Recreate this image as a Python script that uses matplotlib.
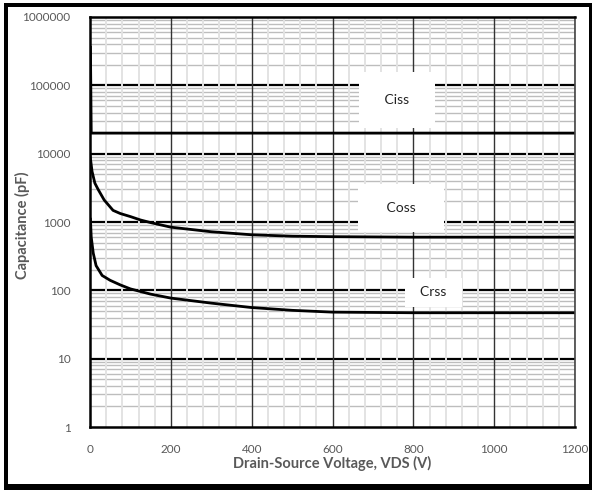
import matplotlib
matplotlib.use("Agg")
import matplotlib.pyplot as plt
from matplotlib.ticker import FixedLocator, NullFormatter
from matplotlib.patches import Rectangle

plt.rcParams['font.family'] = ['Lato', 'DejaVu Sans']

# Data
v_ciss = [1, 3, 1200]
ciss = [360000, 20000, 20000]

v_coss = [0, 5, 12, 20, 35, 57, 75, 100, 125, 150, 200, 300, 400, 500, 600, 800, 1000, 1200]
coss = [9500, 5500, 3700, 3000, 2100, 1480, 1330, 1200, 1070, 980, 840, 720, 650, 620, 610, 600, 600, 600]

v_crss = [1, 3, 8, 15, 30, 50, 75, 100, 150, 200, 300, 400, 500, 600, 800, 1000, 1200]
crss = [1100, 600, 350, 230, 165, 140, 120, 105, 88, 77, 65, 56, 51, 48, 47, 47, 47]

x_ticks = [0, 200, 400, 600, 800, 1000, 1200]
y_ticks = [1, 10, 100, 1000, 10000, 100000, 1000000]
y_ticklabels = ["1", "10", "100", "1000", "10000", "100000", "1000000"]

labels = ["Ciss", "Coss", "Crss"]
label_pos = [(760, 61000), (770, 1600), (850, 94)]
label_pad = [1.6, 1.3, 0.6]
label_text = [" Ciss ", "   Coss   ", "  Crss  "]

fig = plt.figure(figsize=(5.95, 4.91), dpi=100)
ax = fig.add_axes([0.1513, 0.1303, 0.8151, 0.8351])
ax.set_yscale('log')
ax.set_xlim(0, 1200)
ax.set_ylim(1, 1000000)

# grid
minor_y = [m * 10**d for d in range(0, 6) for m in range(2, 10)]
for y in minor_y:
    ax.axhline(y, color='#bdbdbd', lw=1.0, zorder=1)
for y in y_ticks[1:-1]:
    ax.axhline(y, color='black', lw=1.6, zorder=2)
minor_x = [x for x in range(40, 1200, 40) if x % 200 != 0]
for x in minor_x:
    ax.axvline(x, color='#e3e3e3', lw=1.4, zorder=3)
for x in x_ticks[1:-1]:
    ax.axvline(x, color='#333333', lw=1.0, zorder=4)
ax.axvline(1200, color='#555555', lw=1.0, zorder=4)

for v, c in [(v_ciss, ciss), (v_coss, coss), (v_crss, crss)]:
    ax.plot(v, c, color='black', lw=2.0, zorder=6, solid_joinstyle='round')

for txt, (x, y), p in zip(label_text, label_pos, label_pad):
    ax.text(x, y, txt, ha='center', va='center', fontsize=10, color='#222222', zorder=8,
            bbox=dict(boxstyle=f'square,pad={p}', fc='white', ec='none'))

ax.set_xticks(x_ticks)
ax.set_xticklabels([str(x) for x in x_ticks])
ax.yaxis.set_major_locator(FixedLocator(y_ticks))
ax.set_yticklabels(y_ticklabels)
ax.yaxis.set_minor_formatter(NullFormatter())
ax.tick_params(axis='both', which='both', length=0, labelsize=8.5, labelcolor='#595959')
ax.tick_params(axis='x', pad=12)
ax.tick_params(axis='y', pad=14)

ax.set_xlabel("Drain-Source Voltage, VDS (V)", fontsize=10.5, fontweight='bold', color='#595959', labelpad=1)
ax.set_ylabel("Capacitance (pF)", fontsize=10.5, fontweight='bold', color='#595959')
ax.yaxis.set_label_coords(-0.124, 0.493)

for s in ['left', 'bottom', 'top']:
    ax.spines[s].set_linewidth(1.8)
    ax.spines[s].set_color('black')
ax.spines['right'].set_linewidth(1.2)
ax.spines['right'].set_color('#444444')
for s in ax.spines.values():
    s.set_zorder(7)

# figure frame
fig.patches.append(Rectangle((4/595, 1 - 490/491), 4/595, 487/491, transform=fig.transFigure,
                             fc='black', ec='none', zorder=10))
fig.patches.append(Rectangle((4/595, 1 - 490/491), 588/595, 6/491, transform=fig.transFigure,
                             fc='black', ec='none', zorder=10))
fig.patches.append(Rectangle((4/595, 1 - 7/491), 588/595, 4/491, transform=fig.transFigure,
                             fc='black', ec='none', zorder=10))
fig.patches.append(Rectangle((589/595, 1 - 490/491), 3/595, 487/491, transform=fig.transFigure,
                             fc='black', ec='none', zorder=10))

fig.savefig("out.png", dpi=100)
